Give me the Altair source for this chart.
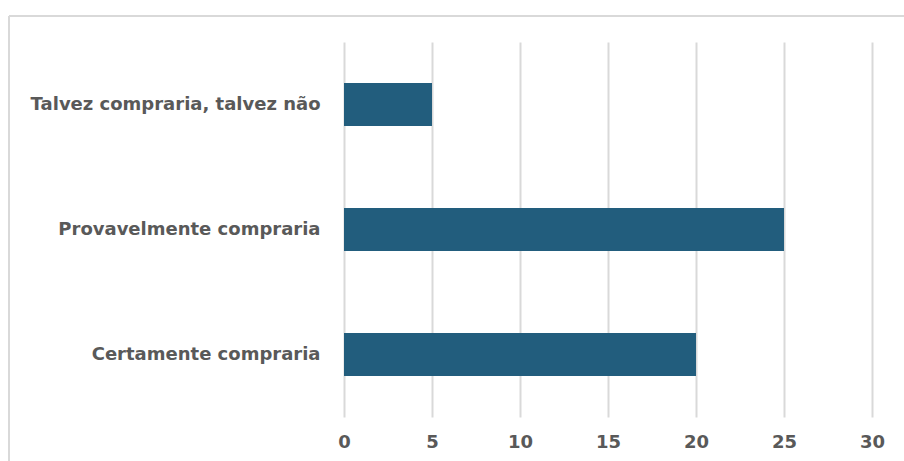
import altair as alt
import pandas as pd

# Purchase intention responses
categories = ["Talvez compraria, talvez não", "Provavelmente compraria", "Certamente compraria"]
counts = [5, 25, 20]

df = pd.DataFrame({"resposta": categories, "quantidade": counts})

label_font = "DejaVu Sans"
text_grey = "#595959"
grid_grey = "#d9d9d9"

bars = alt.Chart(df).mark_bar(color="#225d7d").encode(
    y=alt.Y(
        "resposta:N",
        sort=categories,
        title=None,
        scale=alt.Scale(paddingInner=0.656, paddingOuter=0.328),
        axis=alt.Axis(
            ticks=False,
            domain=False,
            grid=False,
            labelPadding=24,
            labelFont=label_font,
            labelFontSize=18,
            labelFontWeight="bold",
            labelColor=text_grey,
            labelLimit=400,
        ),
    ),
    x=alt.X(
        "quantidade:Q",
        title=None,
        scale=alt.Scale(domain=[0, 30], nice=False),
        axis=alt.Axis(
            values=[0, 5, 10, 15, 20, 25, 30],
            ticks=False,
            domain=False,
            grid=True,
            gridColor=grid_grey,
            gridWidth=2,
            labelFlush=False,
            labelPadding=16,
            labelFont=label_font,
            labelFontSize=18,
            labelFontWeight="bold",
            labelColor=text_grey,
        ),
    ),
)

# Outer chart frame (top and left edges)
frame_top = alt.Chart(df).mark_rule(color=grid_grey, strokeWidth=2).encode(
    x=alt.value(-335), x2=alt.value(560), y=alt.value(-26)
)
frame_left = alt.Chart(df).mark_rule(color=grid_grey, strokeWidth=2).encode(
    x=alt.value(-335), y=alt.value(-26), y2=alt.value(419)
)

chart = alt.layer(bars, frame_top, frame_left).properties(
    width=528,
    height=375,
    autosize=alt.AutoSizeParams(type="none"),
    padding={"left": 344, "top": 42, "right": 32, "bottom": 44},
    background="white",
).configure_view(stroke=None)

chart.save("out.html", embed_options={"renderer": "svg", "actions": False})
